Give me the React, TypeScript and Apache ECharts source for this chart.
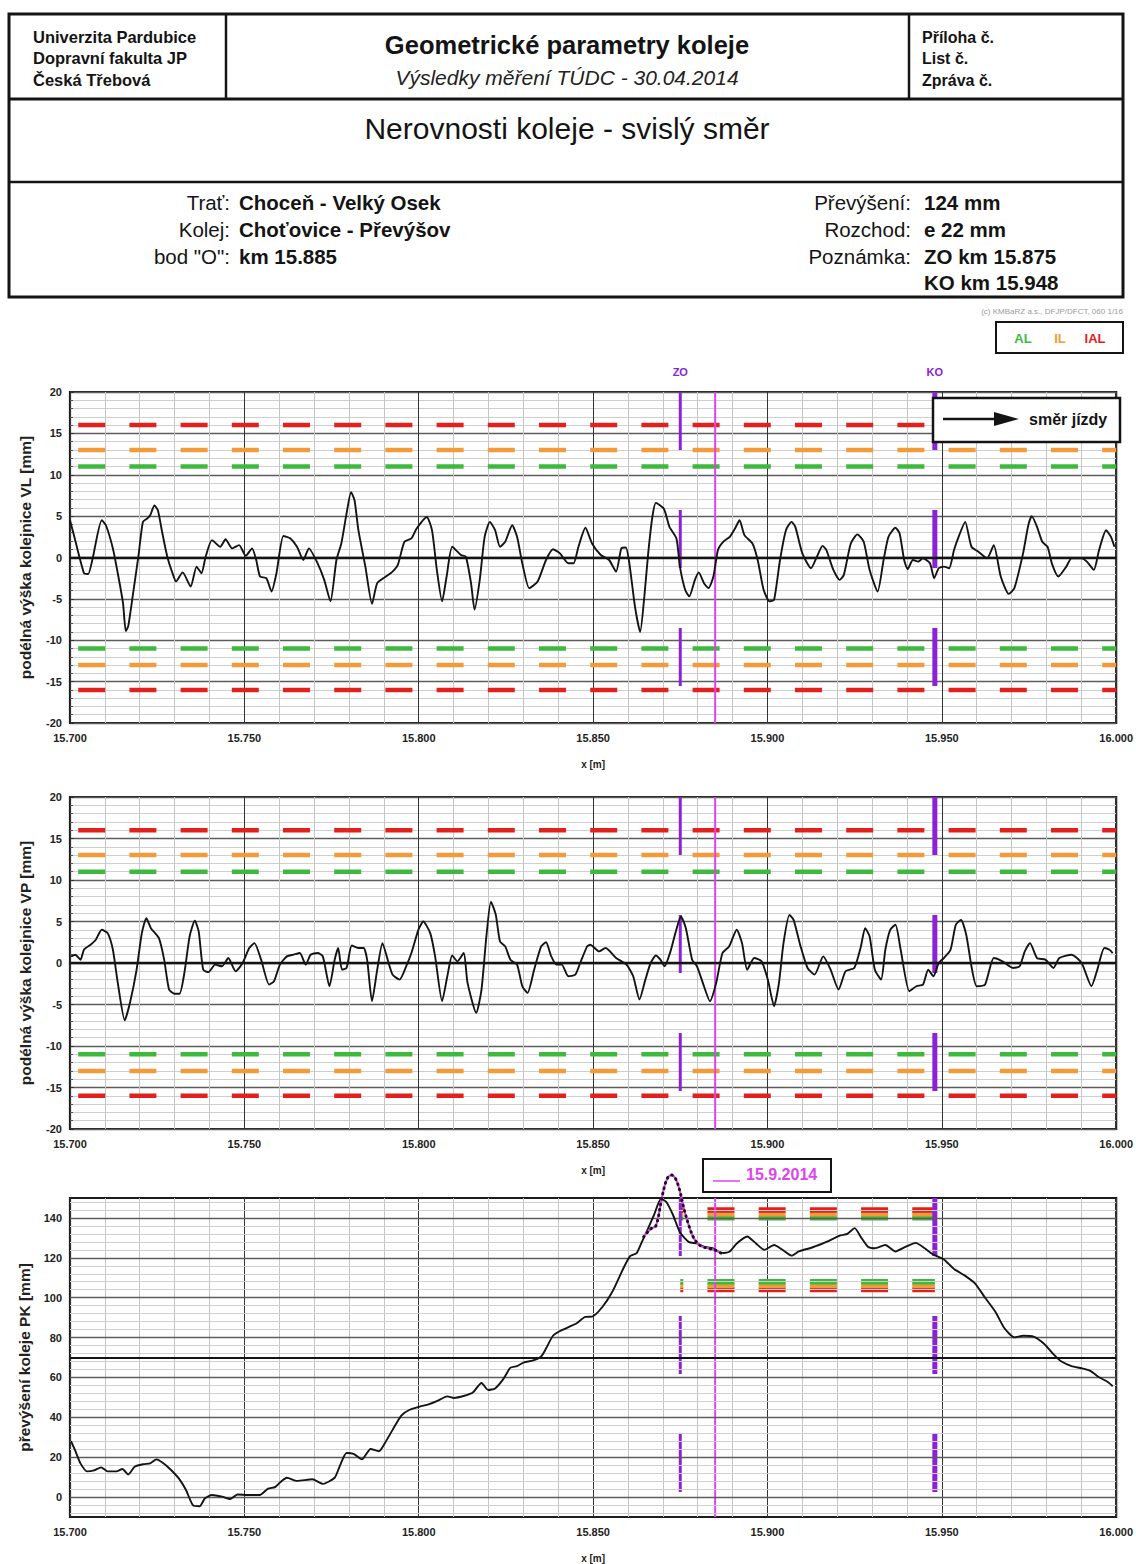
import React, { useEffect, useRef } from 'react';
import * as echarts from 'echarts';

const FONT = "'Liberation Sans', Arial, sans-serif";

// ---- axis settings ----
const kmMin = 15.7;
const kmMax = 16.0;
const kmStep = 0.05;
const vMin = -20;
const vMax = 20;
const vStep = 5;
const pkMin = -10;
const pkMax = 150;
const pkLabelValues = [0, 20, 40, 60, 80, 100, 120, 140];

// ---- markers (km) ----
const zoKm = 15.875;
const koKm = 15.948;
const bodOKm = 15.885;

// ---- limits ----
const vLimitIAL = 16;
const vLimitIL = 13;
const vLimitAL = 11;
const pkUpper = { AL: 140, IL: 142, IAL: 144 };
const pkLower = { AL: 108, IL: 106, IAL: 104 };

// ---- measured traces [km, mm] ----
const vlTrace: [number, number][] = [
  [15.7000,4.5],[15.7010,2.9],[15.7040,-1.9],[15.7052,-2.0],[15.7064,-0.3],[15.7091,4.5],[15.7103,3.9],[15.7123,1.1],[15.7137,-1.9],[15.7152,-5.5],[15.7160,-8.9],[15.7167,-8.3],[15.7181,-4.3],[15.7196,0.1],[15.7209,4.3],[15.7221,4.7],[15.7230,5.1],[15.7242,6.3],[15.7252,5.7],[15.7265,2.9],[15.7279,0.1],[15.7294,-1.9],[15.7304,-2.9],[15.7323,-1.8],[15.7346,-3.5],[15.7363,-1.1],[15.7377,-1.9],[15.7389,0.1],[15.7407,2.1],[15.7431,1.3],[15.7446,2.2],[15.7465,1.1],[15.7485,1.5],[15.7504,0.2],[15.7522,1.1],[15.7534,-0.3],[15.7545,-2.3],[15.7563,-2.5],[15.7578,-4.1],[15.7592,-1.9],[15.7612,2.6],[15.7632,2.3],[15.7651,1.3],[15.7669,-0.3],[15.7685,1.1],[15.7710,-0.7],[15.7729,-2.7],[15.7747,-5.3],[15.7764,-0.3],[15.7778,1.7],[15.7793,5.3],[15.7806,7.9],[15.7816,6.9],[15.7827,3.3],[15.7847,-1.1],[15.7866,-5.6],[15.7881,-3.1],[15.7906,-2.3],[15.7925,-1.7],[15.7940,-0.9],[15.7959,1.9],[15.7979,2.3],[15.7994,3.5],[15.8023,4.9],[15.8038,3.3],[15.8052,-1.5],[15.8067,-5.3],[15.8080,-2.3],[15.8096,1.3],[15.8121,0.3],[15.8135,0.1],[15.8150,-3.1],[15.8160,-6.3],[15.8175,-2.7],[15.8189,2.5],[15.8204,4.3],[15.8219,3.3],[15.8233,1.3],[15.8248,1.9],[15.8268,3.9],[15.8282,2.5],[15.8297,-0.7],[15.8317,-3.7],[15.8341,-2.9],[15.8365,-0.3],[15.8385,1.0],[15.8405,0.5],[15.8429,-0.7],[15.8444,-0.7],[15.8458,1.3],[15.8478,3.6],[15.8497,1.7],[15.8522,0.3],[15.8546,-0.3],[15.8566,-1.7],[15.8581,1.1],[15.8594,1.2],[15.8604,-0.7],[15.8620,-5.9],[15.8635,-9.0],[15.8647,-4.7],[15.8658,0.5],[15.8670,4.9],[15.8680,6.6],[15.8703,5.9],[15.8719,3.7],[15.8739,2.3],[15.8749,-1.1],[15.8764,-3.9],[15.8776,-4.7],[15.8792,-2.7],[15.8803,-1.8],[15.8818,-3.1],[15.8831,-3.7],[15.8845,-2.3],[15.8858,0.9],[15.8873,1.9],[15.8892,2.5],[15.8907,3.5],[15.8920,4.5],[15.8934,2.7],[15.8957,1.7],[15.8972,-0.3],[15.8989,-3.9],[15.9006,-5.3],[15.9019,-5.1],[15.9036,-0.3],[15.9053,3.3],[15.9069,4.3],[15.9080,3.7],[15.9100,0.5],[15.9125,-1.3],[15.9142,0.1],[15.9158,1.4],[15.9169,0.9],[15.9189,-1.5],[15.9207,-2.7],[15.9219,-2.1],[15.9239,1.7],[15.9258,2.8],[15.9276,1.9],[15.9293,-1.5],[15.9316,-4.1],[15.9333,-0.3],[15.9347,2.5],[15.9367,3.6],[15.9379,2.9],[15.9392,-0.3],[15.9402,-1.4],[15.9417,-0.3],[15.9432,-0.5],[15.9446,-0.1],[15.9466,-0.7],[15.9478,-2.5],[15.9491,-1.3],[15.9506,-1.1],[15.9521,-1.3],[15.9535,0.9],[15.9550,2.7],[15.9567,4.3],[15.9585,1.3],[15.9605,0.7],[15.9630,-0.1],[15.9649,1.5],[15.9669,-2.3],[15.9692,-4.4],[15.9708,-3.7],[15.9733,0.5],[15.9748,3.9],[15.9758,5.0],[15.9773,3.7],[15.9788,1.9],[15.9803,1.3],[15.9817,-0.9],[15.9834,-2.3],[15.9857,-1.1],[15.9872,-0.1],[15.9901,-0.1],[15.9916,-0.5],[15.9936,-1.5],[15.9951,0.9],[15.9971,3.3],[15.9985,2.5],[15.9995,1.3]
];

const vpTrace: [number, number][] = [
  [15.7003,0.8],[15.7015,1.0],[15.7030,0.4],[15.7040,1.6],[15.7059,2.2],[15.7074,2.8],[15.7091,4.0],[15.7108,3.6],[15.7123,1.6],[15.7137,-2.4],[15.7157,-6.9],[15.7172,-4.8],[15.7191,-0.8],[15.7206,3.6],[15.7219,5.4],[15.7232,4.2],[15.7255,3.0],[15.7270,0.4],[15.7284,-3.2],[15.7299,-3.7],[15.7314,-3.7],[15.7328,-1.2],[15.7343,3.2],[15.7358,5.1],[15.7369,3.8],[15.7382,-0.8],[15.7397,-1.1],[15.7416,-0.2],[15.7436,-0.4],[15.7454,0.6],[15.7475,-1.0],[15.7495,0.0],[15.7514,1.8],[15.7529,2.4],[15.7548,0.4],[15.7571,-2.6],[15.7585,-2.2],[15.7602,-0.2],[15.7622,0.8],[15.7641,1.0],[15.7659,1.2],[15.7676,-0.2],[15.7690,1.0],[15.7710,1.2],[15.7725,0.8],[15.7744,-2.8],[15.7759,0.4],[15.7769,1.8],[15.7780,-0.8],[15.7793,-0.6],[15.7808,2.1],[15.7827,1.8],[15.7842,1.8],[15.7852,0.4],[15.7866,-4.6],[15.7881,-0.8],[15.7896,2.4],[15.7911,0.4],[15.7925,-1.4],[15.7945,-2.0],[15.7964,-0.4],[15.7979,1.2],[15.7999,4.0],[15.8013,5.0],[15.8033,3.6],[15.8047,0.8],[15.8067,-4.6],[15.8082,-1.6],[15.8096,0.9],[15.8111,0.2],[15.8129,1.2],[15.8140,-2.4],[15.8165,-6.0],[15.8180,-3.2],[15.8194,3.2],[15.8207,7.4],[15.8221,5.8],[15.8233,2.6],[15.8248,2.0],[15.8263,0.4],[15.8282,-0.2],[15.8297,-2.8],[15.8312,-3.6],[15.8331,-0.8],[15.8351,2.0],[15.8365,2.5],[15.8380,0.8],[15.8395,-0.2],[15.8410,-0.2],[15.8429,-1.6],[15.8449,-1.4],[15.8463,0.0],[15.8483,2.0],[15.8492,2.2],[15.8517,1.4],[15.8536,1.8],[15.8566,0.6],[15.8596,-0.2],[15.8615,-1.6],[15.8633,-4.4],[15.8650,-2.0],[15.8665,0.0],[15.8680,0.9],[15.8693,0.4],[15.8705,-0.4],[15.8722,1.4],[15.8736,3.6],[15.8752,5.6],[15.8766,4.2],[15.8784,0.4],[15.8798,-0.4],[15.8818,-2.8],[15.8835,-4.6],[15.8853,-2.4],[15.8871,1.2],[15.8890,2.0],[15.8912,4.0],[15.8927,2.4],[15.8942,-0.8],[15.8962,0.6],[15.8983,0.2],[15.9001,-2.0],[15.9019,-5.2],[15.9033,-2.4],[15.9046,2.4],[15.9063,5.8],[15.9075,5.2],[15.9095,2.0],[15.9115,-0.6],[15.9135,-1.4],[15.9160,0.8],[15.9181,-0.8],[15.9204,-3.2],[15.9224,-1.0],[15.9249,-0.6],[15.9268,2.0],[15.9280,4.2],[15.9293,3.2],[15.9308,-0.8],[15.9326,-2.0],[15.9338,1.6],[15.9352,4.0],[15.9367,4.6],[15.9382,1.6],[15.9407,-3.4],[15.9427,-2.8],[15.9446,-2.6],[15.9461,-0.8],[15.9476,-1.6],[15.9491,0.0],[15.9506,0.6],[15.9525,1.6],[15.9540,4.6],[15.9555,5.2],[15.9570,3.4],[15.9585,-0.4],[15.9600,-2.8],[15.9624,-2.6],[15.9649,0.6],[15.9674,0.2],[15.9704,-0.6],[15.9723,-0.4],[15.9738,1.4],[15.9753,2.4],[15.9773,0.6],[15.9797,0.4],[15.9820,-0.6],[15.9837,0.6],[15.9872,1.0],[15.9901,0.0],[15.9929,-2.8],[15.9946,-0.8],[15.9966,1.8],[15.9981,1.6],[15.9990,1.2]
];

const pkTrace: [number, number][] = [
  [15.7003,28.1],[15.7015,23.3],[15.7030,16.9],[15.7049,12.9],[15.7069,13.4],[15.7089,14.9],[15.7108,12.9],[15.7133,12.9],[15.7150,14.1],[15.7167,11.3],[15.7186,15.3],[15.7211,16.5],[15.7230,16.9],[15.7248,18.9],[15.7265,17.3],[15.7289,13.7],[15.7314,8.9],[15.7333,3.4],[15.7353,-4.2],[15.7372,-4.6],[15.7387,-0.6],[15.7407,1.0],[15.7436,0.2],[15.7460,-1.0],[15.7480,1.3],[15.7514,1.0],[15.7544,1.0],[15.7568,4.2],[15.7588,5.0],[15.7602,7.3],[15.7622,9.7],[15.7651,8.1],[15.7695,8.9],[15.7725,6.6],[15.7759,9.7],[15.7773,15.3],[15.7793,22.1],[15.7813,21.7],[15.7837,18.9],[15.7862,24.1],[15.7886,23.0],[15.7901,26.5],[15.7925,33.7],[15.7950,40.9],[15.7974,43.8],[15.8003,45.4],[15.8028,46.5],[15.8052,48.1],[15.8082,50.5],[15.8101,49.7],[15.8131,50.8],[15.8155,52.4],[15.8180,57.2],[15.8199,53.7],[15.8219,54.5],[15.8243,59.3],[15.8263,64.9],[15.8282,65.7],[15.8302,67.6],[15.8326,68.4],[15.8351,70.5],[15.8365,74.5],[15.8385,80.9],[15.8405,83.3],[15.8434,85.6],[15.8453,87.2],[15.8478,90.4],[15.8497,90.5],[15.8526,95.2],[15.8556,103.2],[15.8586,114.4],[15.8606,120.8],[15.8625,122.4],[15.8640,128.0],[15.8655,133.6],[15.8675,141.6],[15.8695,149.6],[15.8710,148.0],[15.8729,141.6],[15.8749,132.8],[15.8774,128.0],[15.8798,127.2],[15.8818,125.6],[15.8843,124.8],[15.8868,122.4],[15.8892,123.2],[15.8912,127.2],[15.8942,130.7],[15.8967,127.2],[15.8991,124.0],[15.9019,126.4],[15.9041,124.3],[15.9069,121.1],[15.9090,123.2],[15.9130,125.3],[15.9169,128.0],[15.9209,131.2],[15.9229,132.0],[15.9250,134.9],[15.9268,130.4],[15.9288,125.6],[15.9308,124.8],[15.9338,126.4],[15.9367,123.2],[15.9397,125.6],[15.9425,127.5],[15.9451,124.8],[15.9476,121.6],[15.9506,119.2],[15.9535,114.4],[15.9565,111.2],[15.9595,107.2],[15.9624,100.0],[15.9654,92.8],[15.9679,84.8],[15.9708,80.1],[15.9733,80.9],[15.9763,80.5],[15.9793,76.9],[15.9822,71.3],[15.9842,68.1],[15.9872,65.7],[15.9901,64.6],[15.9926,63.3],[15.9951,60.1],[15.9976,57.7],[15.9990,55.6]
];

const pk2014Trace: [number, number][] = [
  [15.8645,130.5],[15.8665,134.5],[15.8680,136.0],[15.8695,148.0],[15.8705,156.0],[15.8715,160.5],[15.8725,161.5],[15.8737,159.5],[15.8748,154.0],[15.8760,145.0],[15.8775,136.0],[15.8790,129.5],[15.8808,126.0],[15.8830,124.8],[15.8855,123.5],[15.8870,122.0]
];

// ---- colours ----
const RED = '#e3211c';
const ORANGE = '#f39a3a';
const GREEN = '#3dba3d';
const PURPLE = '#8a22d6';
const MAGENTA = '#dd44ee';
const INK = '#141414';

const gridBox = [
  { top: 392, height: 331 },
  { top: 797, height: 332 },
  { top: 1198, height: 335 },
];

function hSeg(ai: number, x0: number, x1: number, y: number, color: string, width: number, dash: number[], offset: number, z: number) {
  return {
    type: 'line', xAxisIndex: ai, yAxisIndex: ai, data: [[x0, y], [x1, y]], symbol: 'none', silent: true, z,
    lineStyle: { color, width, type: dash, dashOffset: offset, cap: 'butt' },
  };
}

function vSeg(ai: number, x: number, yTop: number, yBot: number, color: string, width: number, dash: any, z: number, extra: any = {}) {
  return {
    type: 'line', xAxisIndex: ai, yAxisIndex: ai, data: [[x, yTop], [x, yBot]], symbol: 'none', silent: true, z,
    lineStyle: { color, width, type: dash, cap: 'butt' }, ...extra,
  };
}

function gridLineSeries(ai: number, lines: { v: number; c: string; w: number }[]) {
  return {
    type: 'line', xAxisIndex: ai, yAxisIndex: ai, data: [], symbol: 'none', silent: true, z: 1,
    markLine: {
      silent: true, symbol: ['none', 'none'], label: { show: false }, animation: false,
      data: lines.map((l) => ({ yAxis: l.v, lineStyle: { color: l.c, width: l.w, type: 'solid' } })),
    },
  };
}

function txt(x: number, y: number, text: string, size: number, o: any = {}) {
  const font = `${o.italic ? 'italic ' : ''}${o.bold ? 'bold ' : ''}${size}px ${FONT}`;
  const align = o.align || 'left';
  return {
    type: 'text', x, y, z: 100, silent: true,
    style: { text, font, fill: o.color || INK, textAlign: align, align, textVerticalAlign: 'middle', verticalAlign: 'middle' },
  };
}
function ln(x1: number, y1: number, x2: number, y2: number, w: number, color = INK) {
  return { type: 'line', z: 100, silent: true, shape: { x1, y1, x2, y2 }, style: { stroke: color, lineWidth: w } };
}
function box(x: number, y: number, width: number, height: number, w: number, fill = '#ffffff') {
  return { type: 'rect', z: 99, silent: true, shape: { x, y, width, height }, style: { fill, stroke: INK, lineWidth: w } };
}

function xAxisFor(i: number) {
  return {
    type: 'value', gridIndex: i, min: kmMin, max: kmMax, interval: kmStep,
    axisLine: { show: false },
    axisTick: { show: false },
    minorTick: { show: true, splitNumber: 5, length: 0 },
    axisLabel: { formatter: (v: number) => v.toFixed(3), fontFamily: FONT, fontWeight: 'bold', fontSize: 11, color: '#222', margin: 9, showMinLabel: true, showMaxLabel: true },
    splitLine: { show: true, lineStyle: { color: '#333', width: 1 } },
    minorSplitLine: { show: true, lineStyle: { color: '#c6c6c6', width: 1 } },
    name: 'x [m]', nameLocation: 'middle', nameGap: 36,
    nameTextStyle: { fontFamily: FONT, fontWeight: 'bold', fontSize: 10, color: '#222' },
  };
}

function yAxisV(i: number, name: string) {
  return {
    type: 'value', gridIndex: i, min: vMin, max: vMax, interval: vStep,
    axisLine: { show: false },
    axisTick: { show: true, inside: true, length: 4, lineStyle: { color: '#333' } },
    minorTick: { show: true, splitNumber: 5, length: 3, lineStyle: { color: '#555' } },
    axisLabel: { fontFamily: FONT, fontWeight: 'bold', fontSize: 11, color: '#222', margin: 8 },
    splitLine: { show: true, lineStyle: { color: '#5c5c5c', width: 1.3 } },
    minorSplitLine: { show: true, lineStyle: { color: '#cfcfcf', width: 1 } },
    name, nameLocation: 'middle', nameRotate: 90, nameGap: 37,
    nameTextStyle: { fontFamily: FONT, fontWeight: 'bold', fontSize: 15.5, color: '#222' },
  };
}

function buildOption() {
  const pkLabelSet = new Set(pkLabelValues);
  const pkGridLines: { v: number; c: string; w: number }[] = [];
  for (let v = -8; v < pkMax; v += 4) {
    if (v === 70) continue;
    if (pkLabelSet.has(v)) pkGridLines.push({ v, c: '#5c5c5c', w: 1.3 });
    else if (v % 20 !== 0) pkGridLines.push({ v, c: '#cfcfcf', w: 1 });
  }
  pkGridLines.push({ v: 70, c: INK, w: 2.2 });

  const vDash = [27, 24.2];
  const vOff = 43.4;
  const series: any[] = [];

  const vTraces = [vlTrace, vpTrace];
  for (let i = 0; i < 2; i++) {
    series.push(gridLineSeries(i, [{ v: 0, c: INK, w: 2.4 }]));
    series.push(hSeg(i, kmMin, kmMax, vLimitIAL, RED, 4.5, vDash, vOff, 2));
    series.push(hSeg(i, kmMin, kmMax, vLimitIL, ORANGE, 4.5, vDash, vOff, 2));
    series.push(hSeg(i, kmMin, kmMax, vLimitAL, GREEN, 4.5, vDash, vOff, 2));
    series.push(hSeg(i, kmMin, kmMax, -vLimitAL, GREEN, 4.5, vDash, vOff, 2));
    series.push(hSeg(i, kmMin, kmMax, -vLimitIL, ORANGE, 4.5, vDash, vOff, 2));
    series.push(hSeg(i, kmMin, kmMax, -vLimitIAL, RED, 4.5, vDash, vOff, 2));
    series.push(vSeg(i, bodOKm, vMax, vMin, MAGENTA, 2, 'solid', 4));
    const zoExtra = i === 0 ? {
      markPoint: {
        silent: true, symbol: 'rect', symbolSize: 1, itemStyle: { color: 'rgba(0,0,0,0)' },
        label: { show: true, position: 'top', distance: 14, formatter: 'ZO', color: PURPLE, fontWeight: 'bold', fontSize: 11, fontFamily: FONT },
        data: [{ coord: [zoKm, vMax] }],
      },
    } : {};
    const koExtra = i === 0 ? {
      markPoint: {
        silent: true, symbol: 'rect', symbolSize: 1, itemStyle: { color: 'rgba(0,0,0,0)' },
        label: { show: true, position: 'top', distance: 14, formatter: 'KO', color: PURPLE, fontWeight: 'bold', fontSize: 11, fontFamily: FONT },
        data: [{ coord: [koKm, vMax] }],
      },
    } : {};
    series.push(vSeg(i, zoKm, vMax, vMin, PURPLE, 3, [58, 60], 4, zoExtra));
    series.push(vSeg(i, koKm, vMax, vMin, PURPLE, 5, [58, 60], 4, koExtra));
    series.push({
      type: 'line', xAxisIndex: i, yAxisIndex: i, data: vTraces[i], symbol: 'none', smooth: 0.2, silent: true, z: 6,
      lineStyle: { color: INK, width: 1.9 },
    });
  }

  series.push(gridLineSeries(2, pkGridLines));
  const pDash = [27, 24.2];
  const pOff = 24;
  series.push(hSeg(2, zoKm, koKm, pkUpper.AL, GREEN, 5, pDash, pOff, 2));
  series.push(hSeg(2, zoKm, koKm, pkUpper.IL, ORANGE, 5, pDash, pOff, 2));
  series.push(hSeg(2, zoKm, koKm, pkUpper.IAL, RED, 5.5, pDash, pOff, 2));
  series.push(hSeg(2, zoKm, koKm, pkLower.IAL, RED, 5, pDash, pOff, 2));
  series.push(hSeg(2, zoKm, koKm, pkLower.IL, ORANGE, 5, pDash, pOff, 2));
  series.push(hSeg(2, zoKm, koKm, pkLower.AL, GREEN, 5.5, pDash, pOff, 2));
  series.push(vSeg(2, bodOKm, pkMax, pkMin, MAGENTA, 2, 'solid', 4));
  series.push(vSeg(2, zoKm, pkMax, pkMin, PURPLE, 3, [58, 60], 4));
  series.push(vSeg(2, koKm, pkMax, pkMin, PURPLE, 5, [58, 60], 4));
  series.push({
    type: 'line', xAxisIndex: 2, yAxisIndex: 2, data: pkTrace, symbol: 'none', smooth: 0.2, silent: true, z: 6, clip: false,
    lineStyle: { color: INK, width: 1.9 },
  });
  series.push({
    type: 'line', xAxisIndex: 2, yAxisIndex: 2, data: pk2014Trace, symbol: 'none', smooth: 0.35, silent: true, z: 7, clip: false,
    lineStyle: { color: MAGENTA, width: 2.2 },
  });
  series.push({
    type: 'line', xAxisIndex: 2, yAxisIndex: 2, data: pk2014Trace, symbol: 'none', smooth: 0.35, silent: true, z: 8, clip: false,
    lineStyle: { color: INK, width: 3, type: [0.5, 5], cap: 'round' },
  });

  const graphics: any[] = [
    box(9, 14, 1114, 283, 3, 'rgba(0,0,0,0)'),
    ln(9, 99, 1123, 99, 3),
    ln(9, 182, 1123, 182, 2.5),
    ln(226, 14, 226, 99, 2.5),
    ln(909, 14, 909, 99, 2.5),
    txt(33, 37, 'Univerzita Pardubice', 16.5, { bold: true }),
    txt(33, 58, 'Dopravní fakulta JP', 16.5, { bold: true }),
    txt(33, 80, 'Česká Třebová', 16.5, { bold: true }),
    txt(567, 45, 'Geometrické parametry koleje', 25.5, { bold: true, align: 'center' }),
    txt(567, 77, 'Výsledky měření TÚDC - 30.04.2014', 21, { italic: true, align: 'center', color: '#222' }),
    txt(922, 37, 'Příloha č.', 16, { bold: true }),
    txt(922, 58, 'List č.', 16, { bold: true }),
    txt(922, 80, 'Zpráva č.', 16, { bold: true }),
    txt(567, 128, 'Nerovnosti koleje - svislý směr', 30, { align: 'center' }),
    txt(230, 202, 'Trať:', 20.5, { align: 'right' }),
    txt(230, 229, 'Kolej:', 20.5, { align: 'right' }),
    txt(230, 256, 'bod "O":', 20.5, { align: 'right' }),
    txt(239, 202, 'Choceň - Velký Osek', 20.5, { bold: true }),
    txt(239, 229, 'Choťovice - Převýšov', 20.5, { bold: true }),
    txt(239, 256, 'km 15.885', 20.5, { bold: true }),
    txt(911, 202, 'Převýšení:', 20.5, { align: 'right' }),
    txt(911, 229, 'Rozchod:', 20.5, { align: 'right' }),
    txt(911, 256, 'Poznámka:', 20.5, { align: 'right' }),
    txt(924, 202, '124 mm', 20.5, { bold: true }),
    txt(924, 229, 'e 22 mm', 20.5, { bold: true }),
    txt(924, 256, 'ZO km 15.875', 20.5, { bold: true }),
    txt(924, 282, 'KO km 15.948', 20.5, { bold: true }),
    txt(1123, 311, '(c) KMBaRZ a.s., DFJP/DFCT, 060 1/16', 8, { align: 'right', color: '#9a9a9a' }),
    box(996, 322, 127, 31, 2),
    txt(1023, 338, 'AL', 13, { bold: true, align: 'center', color: GREEN }),
    txt(1060, 338, 'IL', 13, { bold: true, align: 'center', color: ORANGE }),
    txt(1095, 338, 'IAL', 13, { bold: true, align: 'center', color: RED }),
    box(933, 398, 187, 44, 2.5),
    ln(943, 419, 998, 419, 2.5),
    { type: 'polygon', z: 100, silent: true, shape: { points: [[994, 412], [1019, 419], [994, 426]] }, style: { fill: INK } },
    txt(1029, 419, 'směr jízdy', 16, { bold: true }),
    box(703, 1159, 128, 33, 2),
    ln(713, 1181, 740, 1181, 1.5, MAGENTA),
    txt(746, 1174, '15.9.2014', 16, { bold: true, color: MAGENTA }),
  ];

  return {
    animation: false,
    backgroundColor: '#ffffff',
    textStyle: { fontFamily: FONT },
    grid: gridBox.map((g) => ({ left: 70, width: 1056, top: g.top, height: g.height, show: true, borderColor: '#1c1c1c', borderWidth: 2.2, backgroundColor: '#ffffff' })),
    xAxis: [xAxisFor(0), xAxisFor(1), xAxisFor(2)],
    yAxis: [
      yAxisV(0, 'podélná výška kolejnice VL [mm]'),
      yAxisV(1, 'podélná výška kolejnice VP [mm]'),
      {
        type: 'value', gridIndex: 2, min: pkMin, max: pkMax, interval: 10,
        axisLine: { show: false },
        axisTick: { show: false },
        axisLabel: {
          formatter: (v: number) => (pkLabelSet.has(v) ? String(v) : ''),
          fontFamily: FONT, fontWeight: 'bold', fontSize: 11, color: '#222', margin: 8,
        },
        splitLine: { show: false },
        name: 'převýšení koleje PK [mm]', nameLocation: 'middle', nameRotate: 90, nameGap: 37,
        nameTextStyle: { fontFamily: FONT, fontWeight: 'bold', fontSize: 15.5, color: '#222' },
      },
    ],
    series,
    graphic: { elements: graphics },
  };
}

export default function App() {
  const ref = useRef<HTMLDivElement>(null);
  useEffect(() => {
    if (!ref.current) return;
    const chart = echarts.init(ref.current, undefined, { renderer: 'svg' });
    chart.setOption(buildOption() as any);
    return () => chart.dispose();
  }, []);
  return (
    <div
      ref={ref}
      style={{ position: 'absolute', left: 0, top: 0, width: 1136, height: 1564, background: '#ffffff' }}
    />
  );
}
